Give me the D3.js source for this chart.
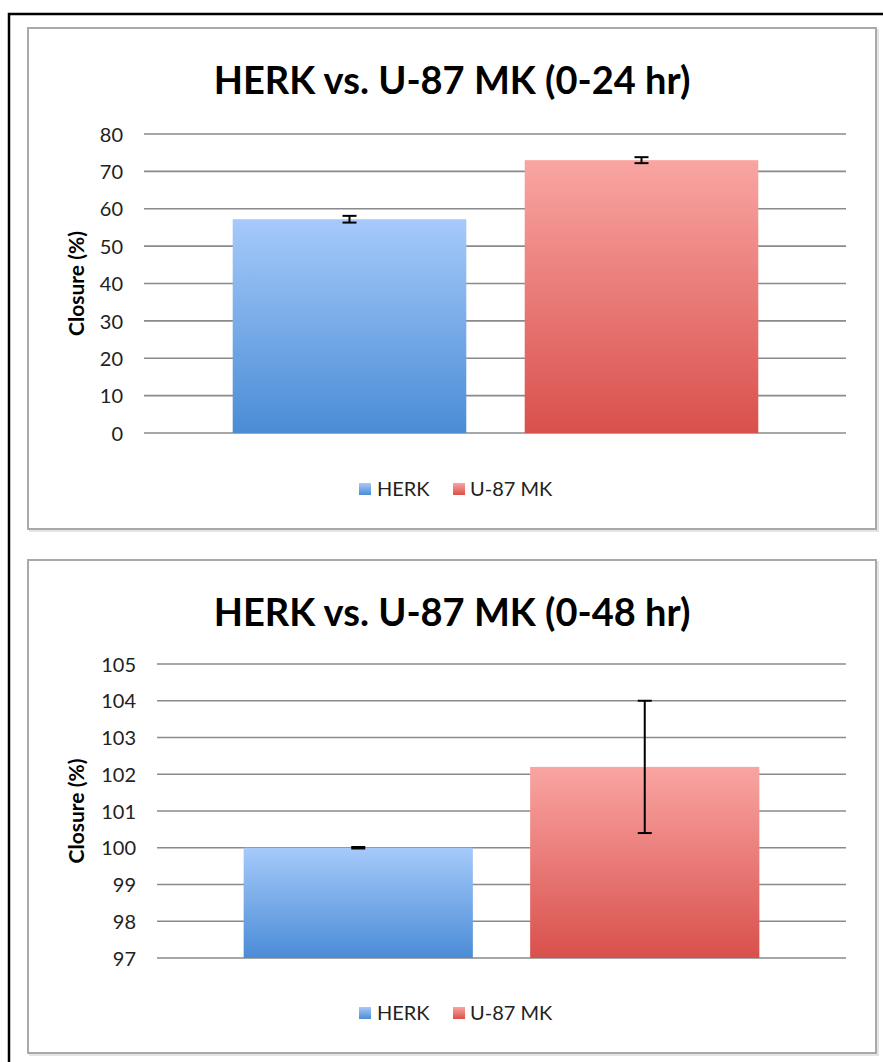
<!DOCTYPE html>
<html><head><meta charset="utf-8">
<script src="https://cdn.jsdelivr.net/npm/d3@7"></script>
<style>
html,body{margin:0;padding:0;background:#fff;}
svg{display:block;font-family:Lato,"Open Sans",sans-serif;}
</style></head>
<body>
<svg id="c" width="883" height="1062"></svg>
<script>
// ---- data ----
const categories = ["HERK", "U-87 MK"];
const closure24 = [57.2, 73.0];
const error24 = [0.9, 0.8];
const ticks24 = [0, 10, 20, 30, 40, 50, 60, 70, 80];
const closure48 = [100.0, 102.2];
const error48 = [0.02, 1.8];
const ticks48 = [97, 98, 99, 100, 101, 102, 103, 104, 105];
const title24 = "HERK vs. U-87 MK (0-24 hr)";
const title48 = "HERK vs. U-87 MK (0-48 hr)";
const yLabel = "Closure (%)";

const svg = d3.select("#c");
const defs = svg.append("defs");
function grad(id, top, bottom) {
  const g = defs.append("linearGradient").attr("id", id)
    .attr("x1", 0).attr("y1", 0).attr("x2", 0).attr("y2", 1);
  g.append("stop").attr("offset", "0%").attr("stop-color", top);
  g.append("stop").attr("offset", "100%").attr("stop-color", bottom);
}
grad("gBlue", "#a6cafa", "#4a8cd6");
grad("gRed", "#f9a5a2", "#d9504c");
const fills = ["url(#gBlue)", "url(#gRed)"];
const legendFills = ["url(#gBlue)", "url(#gRed)"];

// outer black frame
svg.append("rect").attr("x", 9).attr("y", 14).attr("width", 900).attr("height", 1100)
  .attr("fill", "none").attr("stroke", "#000").attr("stroke-width", 2.5);

function drawChart(o) {
  const g = svg.append("g");
  // panel
  g.append("rect").attr("x", o.px + 2).attr("y", o.py + 2).attr("width", o.pw).attr("height", o.ph)
    .attr("fill", "none").attr("stroke", "#e4e4e4").attr("stroke-width", 2);
  g.append("rect").attr("x", o.px).attr("y", o.py).attr("width", o.pw).attr("height", o.ph)
    .attr("fill", "#fff").attr("stroke", "#a9a9a9").attr("stroke-width", 2);

  // title
  g.append("text").attr("x", o.px + o.pw / 2).attr("y", o.titleY)
    .attr("text-anchor", "middle").attr("font-weight", "bold").attr("font-size", 38)
    .attr("fill", "#000").text(o.title);

  const y = d3.scaleLinear().domain(o.domain).range([o.yBottom, o.yTop]);
  const x = d3.scaleBand().domain(categories).range(o.bandRange).paddingInner(0.2).paddingOuter(0.1);

  // gridlines
  g.append("g").selectAll("line").data(o.ticks).join("line")
    .attr("x1", o.gridX0).attr("x2", o.gridX1)
    .attr("y1", d => y(d)).attr("y2", d => y(d))
    .attr("stroke", "#8a8a8a").attr("stroke-width", 1.6);

  // axis labels
  const ax = d3.axisLeft(y).tickValues(o.ticks).tickSize(0).tickPadding(0);
  const axG = g.append("g").attr("transform", `translate(${o.labelX},0)`).call(ax);
  axG.select(".domain").remove();
  axG.selectAll("text").attr("font-size", 20).attr("fill", "#222").attr("dy", "0.36em")
    .attr("font-family", "Lato, 'Open Sans', sans-serif");

  // y label
  g.append("text").attr("transform", `translate(${o.ylabX},${(o.yTop + o.yBottom) / 2}) rotate(-90)`)
    .attr("text-anchor", "middle").attr("font-weight", "bold").attr("font-size", 21)
    .attr("fill", "#000").text(yLabel);

  // bars
  g.append("g").selectAll("rect").data(categories).join("rect")
    .attr("x", d => x(d)).attr("width", x.bandwidth())
    .attr("y", (d, i) => y(o.values[i]))
    .attr("height", (d, i) => y(o.domain[0]) - y(o.values[i]))
    .attr("fill", (d, i) => fills[i]);

  // error bars
  const eb = g.append("g").attr("stroke", "#000").attr("stroke-width", 2);
  categories.forEach((c, i) => {
    const cx = x(c) + x.bandwidth() / 2;
    const hi = y(o.values[i] + o.errors[i]);
    const lo = y(o.values[i] - o.errors[i]);
    eb.append("line").attr("x1", cx).attr("x2", cx).attr("y1", hi).attr("y2", lo);
    eb.append("line").attr("x1", cx - 7).attr("x2", cx + 7).attr("y1", hi).attr("y2", hi);
    eb.append("line").attr("x1", cx - 7).attr("x2", cx + 7).attr("y1", lo).attr("y2", lo);
  });

  // legend
  const lg = g.append("g");
  const items = [{ name: categories[0], sx: 359, tx: 377 }, { name: categories[1], sx: 453, tx: 470 }];
  items.forEach((it, i) => {
    lg.append("rect").attr("x", it.sx).attr("y", o.legendY - 13).attr("width", 12).attr("height", 12)
      .attr("fill", legendFills[i]);
    lg.append("text").attr("x", it.tx).attr("y", o.legendY).attr("font-size", 20)
      .attr("fill", "#222").text(it.name);
  });
}

drawChart({
  px: 28, py: 28, pw: 848, ph: 501,
  title: title24, titleY: 94,
  domain: [0, 80], ticks: ticks24, yTop: 134, yBottom: 433,
  values: closure24, errors: error24,
  gridX0: 144, gridX1: 846, labelX: 123, ylabX: 84,
  bandRange: [203.5, 787.5],
  legendY: 496
});
drawChart({
  px: 28, py: 560, pw: 848, ph: 493,
  title: title48, titleY: 626,
  domain: [97, 105], ticks: ticks48, yTop: 664, yBottom: 958,
  values: closure48, errors: error48,
  gridX0: 157, gridX1: 846, labelX: 136, ylabX: 84,
  bandRange: [215, 788],
  legendY: 1020
});
</script>
</body></html>
